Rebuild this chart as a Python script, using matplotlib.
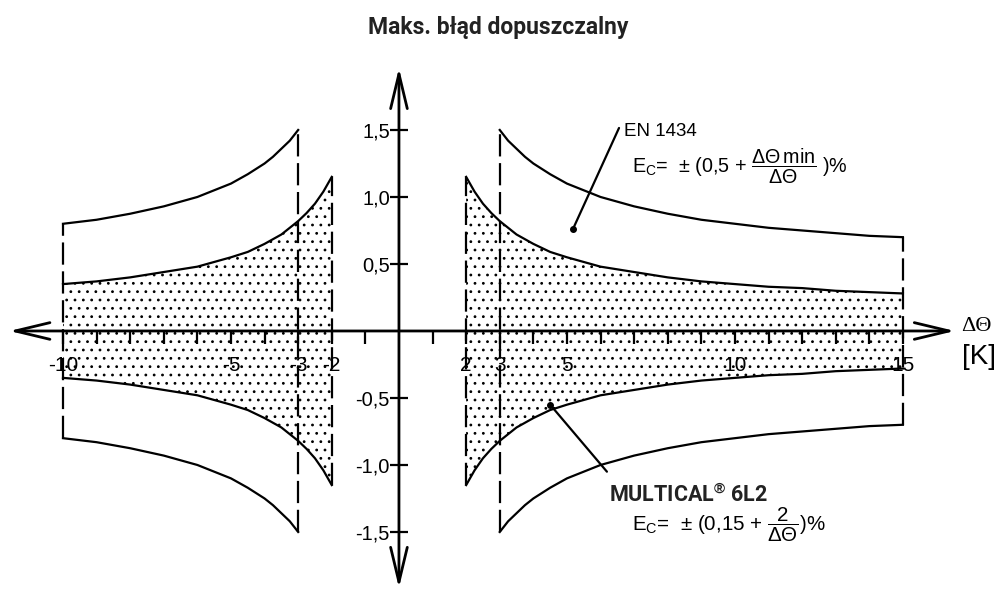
import numpy as np
import matplotlib
matplotlib.use('Agg')
import matplotlib.pyplot as plt
from matplotlib.ticker import FixedLocator, FuncFormatter

plt.rcParams['font.family'] = ['Liberation Sans', 'DejaVu Sans']
plt.rcParams['mathtext.fontset'] = 'custom'
plt.rcParams['mathtext.rm'] = 'Liberation Sans'
plt.rcParams['mathtext.it'] = 'Liberation Sans:italic'
plt.rcParams['mathtext.bf'] = 'Liberation Sans:bold'
plt.rcParams['axes.unicode_minus'] = False
plt.rcParams['hatch.linewidth'] = 0.8

# |dT| [K] i max. blad [%]
dt_en = [3, 3.25, 3.5, 3.75, 4, 4.5, 5, 6, 7, 8, 9, 10, 11, 12, 13, 14, 15]
err_en = [1.5, 1.42, 1.36, 1.3, 1.25, 1.17, 1.1, 1.0, 0.93, 0.875, 0.83, 0.8,
          0.77, 0.75, 0.73, 0.71, 0.7]
dt_mc = [2, 2.25, 2.5, 2.75, 3, 3.5, 4, 4.5, 5, 6, 7, 8, 9, 10, 11, 12, 13, 14, 15]
err_mc = [1.15, 1.04, 0.95, 0.88, 0.82, 0.72, 0.65, 0.59, 0.55, 0.48, 0.44, 0.4,
          0.37, 0.35, 0.33, 0.32, 0.3, 0.29, 0.28]
dt_left_max = 10  # po stronie ujemnej wykres konczy sie na -10

x_major = [-10, -5, -3, -2, 2, 3, 5, 10, 15]
x_minor = [v for v in range(-10, 16) if v not in x_major and v != 0]
y_ticks = [-1.5, -1.0, -0.5, 0.5, 1.0, 1.5]

fig = plt.figure(figsize=(10, 5.9), dpi=100)
ax = fig.add_axes([0, 0, 1, 1])
ax.set_xlim(-11.875, 17.89)
ax.set_ylim(-1.933, 2.47)


def sides(dt, err):
    dt = np.array(dt)
    err = np.array(err)
    m = dt <= dt_left_max
    return [(-dt[m], err[m]), (dt, err)]


dash = (0, (10, 3))
for x, e in sides(dt_mc, err_mc):
    ax.fill_between(x, -e, e, facecolor='none', edgecolor='black', hatch='..', linewidth=0)
    ax.plot(x, e, 'k', lw=1.6)
    ax.plot(x, -e, 'k', lw=1.6)
    ax.vlines(x[0], -e[0], e[0], colors='k', lw=1.6, linestyles=dash)
for x, e in sides(dt_en, err_en):
    ax.plot(x, e, 'k', lw=1.6)
    ax.plot(x, -e, 'k', lw=1.6)
    for i in (0, -1):
        ax.vlines(x[i], -e[i], e[i], colors='k', lw=1.6, linestyles=dash)

# osie ze strzalkami
for s in ax.spines.values():
    s.set_visible(False)
ax.spines['bottom'].set_position(('data', 0))
ax.spines['left'].set_position(('data', 0))
ap = dict(arrowstyle='<->,head_length=2.5,head_width=0.6', lw=2, color='k',
          shrinkA=0, shrinkB=0, mutation_scale=10)
ax.annotate('', xy=(16.55, 0), xytext=(-11.6, 0), arrowprops=ap)
ax.annotate('', xy=(0, 1.963), xytext=(0, -1.918), arrowprops=ap)

ax.xaxis.set_major_locator(FixedLocator(x_major))
ax.xaxis.set_minor_locator(FixedLocator(x_minor))
ax.xaxis.set_major_formatter(FuncFormatter(lambda v, p: f'{v:g}'))
ax.tick_params(axis='x', which='both', direction='out', length=9, width=1.6,
               color='k', pad=9, labelsize=15)
ax.yaxis.set_major_locator(FixedLocator(y_ticks))
ax.yaxis.set_major_formatter(FuncFormatter(lambda v, p: f'{v:.1f}'.replace('.', ',')))
ax.tick_params(axis='y', direction='inout', length=13, width=1.6, color='k',
               pad=0, labelsize=14.5)

# opisy
lp = dict(arrowstyle='-', lw=1.6, color='k', shrinkA=0, shrinkB=0)
ax.annotate('', xy=(5.18, 0.761), xytext=(6.55, 1.515), arrowprops=lp)
ax.plot(5.18, 0.761, 'ko', ms=4)
ax.annotate('', xy=(4.5, -0.55), xytext=(6.19, -1.05), arrowprops=lp)
ax.plot(4.5, -0.55, 'ko', ms=4)

ax.text(6.70, 1.485, 'EN 1434', fontsize=13.5, va='center')
ax.text(6.93, 1.23,
        r'E$_{\mathrm{C}}$=  ± (0,5 + $\dfrac{\Delta\Theta\,\mathrm{min}}{\Delta\Theta}$ )%',
        fontsize=14.2, va='center')
ax.text(6.25, -1.224, r'MULTICAL$^{\mathbf{®}}$ 6L2', fontsize=15.5, weight='bold',
        family='Roboto', color='#222222', va='center')
ax.text(6.93, -1.45, r'E$_{\mathrm{C}}$=  ± (0,15 + $\dfrac{2}{\Delta\Theta}$)%',
        fontsize=14.8, va='center')

ax.text(16.73, 0.037, 'ΔΘ', family='Liberation Serif', fontsize=16, va='center')
ax.text(16.76, -0.194, '[K]', fontsize=20, va='center')

fig.text(0.498, 0.954, 'Maks. błąd dopuszczalny', ha='center', va='center',
         fontsize=16.5, weight='bold', family='Roboto', color='#222222')

fig.savefig('out.png', dpi=100)
